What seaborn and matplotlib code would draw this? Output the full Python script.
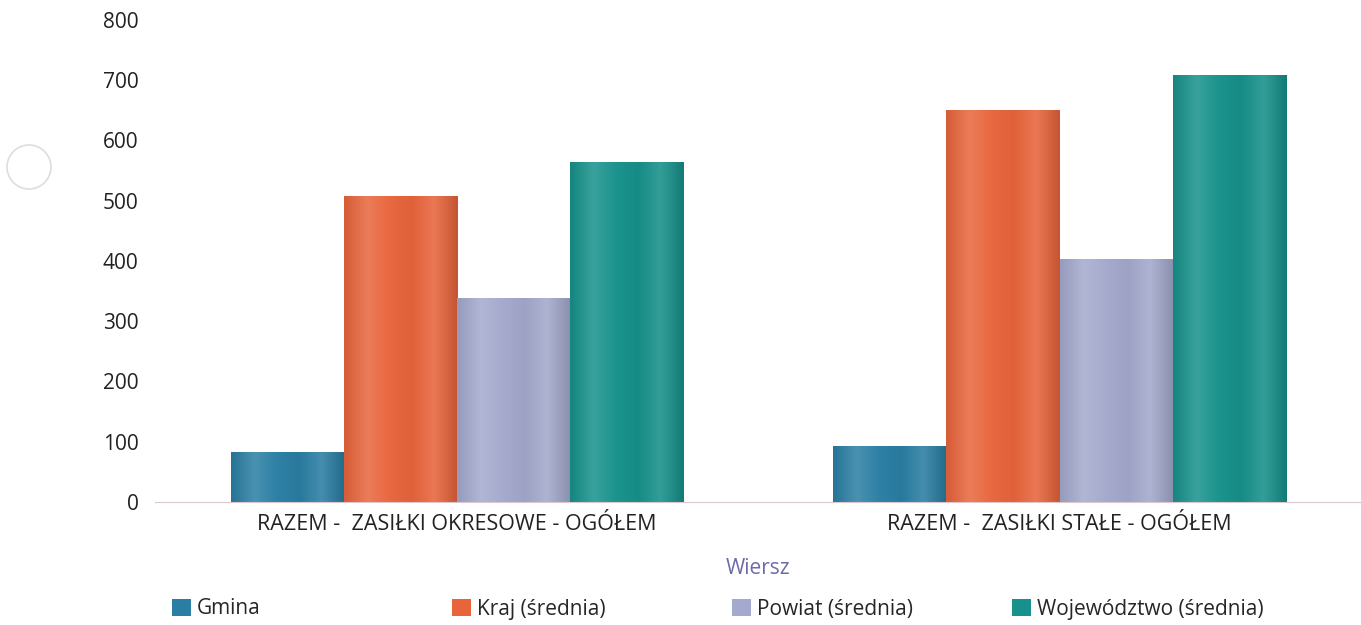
import matplotlib
matplotlib.use("Agg")
import matplotlib.pyplot as plt
import numpy as np
import pandas as pd
import seaborn as sns
from matplotlib.colors import LinearSegmentedColormap, to_rgb
from matplotlib.patches import Circle

#------Data------

CATEGORIES = ["RAZEM -  ZASIŁKI OKRESOWE - OGÓŁEM", "RAZEM -  ZASIŁKI STAŁE - OGÓŁEM"]
SERIES = ["Gmina", "Kraj (średnia)", "Powiat (średnia)", "Województwo (średnia)"]

gmina = [83, 93]
kraj = [508, 650]
powiat = [339, 404]
wojewodztwo = [565, 708]

Y_TICKS = [0, 100, 200, 300, 400, 500, 600, 700, 800]

COLORS = ["#2a7ea3", "#e8653c", "#a4a9cd", "#17918b"]

#------Helpers------

def shade(color, f):
    # f > 0 lightens, f < 0 darkens
    r, g, b = to_rgb(color)
    if f >= 0:
        return (r + (1 - r) * f, g + (1 - g) * f, b + (1 - b) * f)
    return (r * (1 + f), g * (1 + f), b * (1 + f))

def cylinder_cmap(color):
    stops = [shade(color, -0.08), shade(color, 0.15), shade(color, 0.02),
             shade(color, -0.04), shade(color, 0.12), shade(color, -0.15)]
    return LinearSegmentedColormap.from_list("cyl", stops)

#------Plot------

rows = []
for name, vals in zip(SERIES, [gmina, kraj, powiat, wojewodztwo]):
    for cat, v in zip(CATEGORIES, vals):
        rows.append({"Wiersz": cat, "Wartosc": v, "Seria": name})
df = pd.DataFrame(rows)

sns.set_style("white")
plt.rcParams["font.family"] = ["Open Sans", "DejaVu Sans"]

fig = plt.figure(figsize=(13.61, 6.25), dpi=100)
ax = fig.add_axes([0.114, 0.197, 0.886, 0.771])

sns.barplot(data=df, x="Wiersz", y="Wartosc", hue="Seria", hue_order=SERIES,
            palette=COLORS, saturation=1, width=0.75, ax=ax, linewidth=0)

ax.set_xlim(-0.5, 1.5)
ax.set_ylim(0, 800)
ax.set_yticks(Y_TICKS)
ax.tick_params(axis="y", labelsize=15, colors="#222222", length=0, pad=12)
ax.tick_params(axis="x", labelsize=15.5, colors="#222222", length=0, pad=9)

# cylinder-like shading on the bars
grad = np.linspace(0, 1, 64).reshape(1, -1)
for container, color in zip(ax.containers, COLORS):
    cmap = cylinder_cmap(color)
    for bar in container:
        x0, y0 = bar.get_x(), bar.get_y()
        w, h = bar.get_width(), bar.get_height()
        im = ax.imshow(grad, cmap=cmap, aspect="auto", interpolation="bicubic",
                       extent=(x0, x0 + w, y0, y0 + h), zorder=bar.get_zorder() + 0.1)
        im.set_clip_path(bar)
ax.set_xlim(-0.5, 1.5)
ax.set_ylim(0, 800)

for s in ["top", "right", "left"]:
    ax.spines[s].set_visible(False)
ax.spines["bottom"].set_color("#dcc8cc")
ax.spines["bottom"].set_linewidth(0.8)
ax.spines["bottom"].set_zorder(5)

ax.set_ylabel("")
ax.set_xlabel("Wiersz", fontsize=15, color="#6b6aa8", labelpad=16)

# legend: four evenly spaced entries
handles, labels = ax.get_legend_handles_labels()
ax.get_legend().remove()
for i, (h, l) in enumerate(zip(handles, labels)):
    x = (172 + 280 * i) / 1361
    fig.legend([h], [l], loc="center left", bbox_to_anchor=(x, 1 - 609 / 625),
               frameon=False, fontsize=15, handlelength=0.9, handleheight=0.9,
               handletextpad=0.3, borderpad=0, borderaxespad=0)

# faint circle artifact on the left edge
fig.patches.append(Circle((29, 458), 22, transform=None, fill=False,
                          edgecolor="#dddddd", linewidth=1.2))

fig.savefig("out.png", dpi=100)
